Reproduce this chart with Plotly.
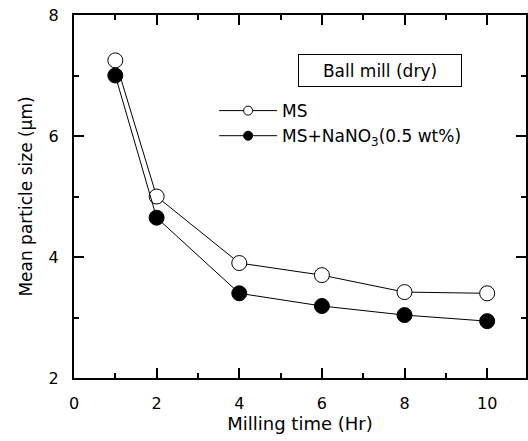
import plotly.graph_objects as go

milling_time = [1, 2, 4, 6, 8, 10]
ms = [7.25, 5.0, 3.9, 3.7, 3.42, 3.4]
ms_nano3 = [7.0, 4.65, 3.4, 3.19, 3.04, 2.94]

x_ticks = [0, 2, 4, 6, 8, 10]
y_ticks = [2, 4, 6, 8]

FONT = "DejaVu Sans, Liberation Sans, Arial, sans-serif"

fig = go.Figure()
fig.add_trace(go.Scatter(x=milling_time, y=ms, mode="lines+markers", showlegend=False,
                         line=dict(color="black", width=1),
                         marker=dict(symbol="circle", size=15, color="white",
                                     line=dict(color="black", width=1))))
fig.add_trace(go.Scatter(x=milling_time, y=ms_nano3, mode="lines+markers", showlegend=False,
                         line=dict(color="black", width=1),
                         marker=dict(symbol="circle", size=15, color="black",
                                     line=dict(color="black", width=1))))
# legend entries
fig.add_trace(go.Scatter(x=[None], y=[None], mode="lines+markers", name="MS",
                         line=dict(color="black", width=1),
                         marker=dict(symbol="circle", size=9, color="white",
                                     line=dict(color="black", width=1))))
fig.add_trace(go.Scatter(x=[None], y=[None], mode="lines+markers",
                         name="MS+NaNO<sub>3</sub>(0.5 wt%)",
                         line=dict(color="black", width=1),
                         marker=dict(symbol="circle", size=9, color="black",
                                     line=dict(color="black", width=1))))

axis_common = dict(showline=True, linecolor="black", linewidth=2, mirror="ticks",
                   ticks="inside", ticklen=10, tickwidth=1.5, tickcolor="black",
                   showgrid=False, zeroline=False,
                   tickfont=dict(family=FONT, size=16, color="black"),
                   ticklabelstandoff=10)

fig.update_xaxes(range=[0, 10.94], tickvals=x_ticks,
                 minor=dict(ticks="inside", ticklen=5, dtick=1, tick0=0, tickcolor="black", tickwidth=1.5),
                 title=dict(text="Milling time (Hr)", font=dict(family=FONT, size=18, color="black"), standoff=4),
                 **axis_common)
fig.update_yaxes(range=[2, 8], tickvals=y_ticks,
                 minor=dict(ticks="inside", ticklen=5, dtick=1, tick0=0, tickcolor="black", tickwidth=1.5),
                 title=dict(text="Mean particle size (\u03bcm)", font=dict(family=FONT, size=17, color="black"), standoff=12),
                 **axis_common)

fig.add_annotation(x=0.678, y=0.846, xref="paper", yref="paper", text="Ball mill (dry)",
                   xanchor="center", yanchor="middle",
                   showarrow=False, font=dict(family=FONT, size=17, color="black"),
                   bordercolor="black", borderwidth=1, borderpad=2, width=158, height=27)

fig.update_layout(width=528, height=441,
                  margin=dict(l=74, r=0, t=15, b=63),
                  plot_bgcolor="white", paper_bgcolor="white",
                  font=dict(family=FONT, color="black"),
                  legend=dict(x=0.31, y=0.785, xanchor="left", yanchor="top",
                              bgcolor="rgba(0,0,0,0)", itemwidth=58,
                              font=dict(family=FONT, size=17, color="black"),
                              tracegroupgap=0))

fig.write_html("out.html", config={"displayModeBar": False},
               post_script="document.body.style.margin='0';document.body.style.overflow='hidden';")
